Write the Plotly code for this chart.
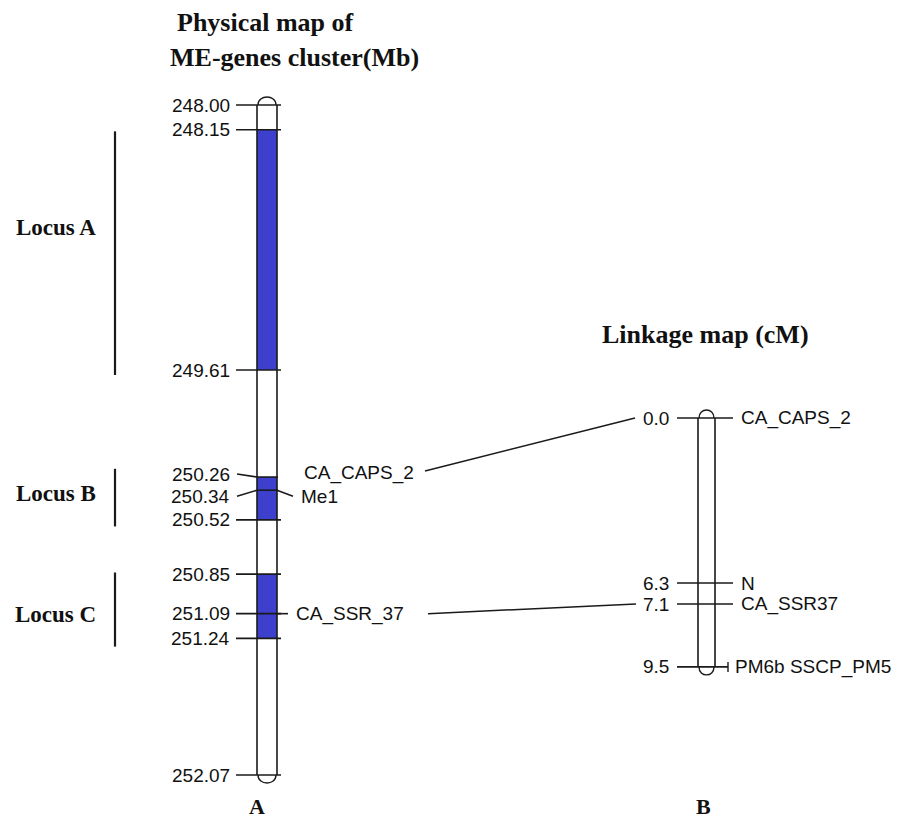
import plotly.graph_objects as go

# ------------------------------------------------------------------ data
phys_pos = [248.00, 248.15, 249.61, 250.26, 250.34, 250.52, 250.85, 251.09, 251.24, 252.07]
phys_tick_labels = ["248.00", "248.15", "249.61", "250.26", "250.34", "250.52",
                    "250.85", "251.09", "251.24", "252.07"]
phys_marker_names = ["CA_CAPS_2", "Me1", "CA_SSR_37"]
phys_marker_pos = [250.26, 250.34, 251.09]
seg_start = [248.15, 250.26, 250.85]
seg_end = [249.61, 250.52, 251.24]
locus_names = ["Locus A", "Locus B", "Locus C"]
locus_start = [248.16, 250.21, 250.84]
locus_end = [249.64, 250.56, 251.29]
link_pos = [0.0, 6.3, 7.1, 9.5]
link_tick_labels = ["0.0", "6.3", "7.1", "9.5"]
link_marker_names = ["CA_CAPS_2", "N", "CA_SSR37", "PM6b SSCP_PM5"]
connect_phys = [250.26, 251.09]
connect_link = [0.0, 7.1]

# ------------------------------------------------------------------ layout / style
W, H = 906, 823
PHYS_TOP_PX, PHYS_BOT_PX = 105, 775          # pixel rows of the physical map ends
LINK_TOP_PX, LINK_PX_PER_CM = 418, 26.2      # linkage map scale
ppm = (PHYS_BOT_PX - PHYS_TOP_PX) / (phys_pos[-1] - phys_pos[0])
y_rng = [phys_pos[-1] + (H - PHYS_BOT_PX) / ppm, phys_pos[0] - PHYS_TOP_PX / ppm]
y2_rng = [(H - LINK_TOP_PX) / LINK_PX_PER_CM, -LINK_TOP_PX / LINK_PX_PER_CM]


def cm_to_mb(c):
    px = LINK_TOP_PX + c * LINK_PX_PER_CM
    return y_rng[1] + px / ppm


PX0, PX1 = 257, 277          # physical chromosome edges
PT0, PT1 = 236, 281          # physical tick extent
LX0, LX1 = 698, 715          # linkage chromosome edges
LT0, LT1 = 677, 733          # linkage tick extent
INK = "#1a1a1a"
BLUE = "#3c40cc"
CAP_PX = 8
tick_nudge = {"250.26": -3, "250.34": 6}          # label offsets (px, down)
marker_nudge = {"CA_CAPS_2": -4, "Me1": 6, "CA_SSR_37": 0}
marker_conn = {"CA_CAPS_2": 0, "Me1": 16, "CA_SSR_37": 11}
locus_nudge = [-26, -4, 5]

SANS = "Liberation Sans"
SERIF = "Liberation Serif"
LBL = dict(family=SANS, size=19, color="#111")

shapes = []
annos = []


def line(x0, y0, x1, y1, yref="y", w=1.6):
    shapes.append(dict(type="line", xref="x", yref=yref, x0=x0, y0=y0, x1=x1, y1=y1,
                       line=dict(color=INK, width=w)))


def chromosome(x0, x1, top, bot, yref, scale):
    h = CAP_PX / scale * 4 / 3
    line(x0, top, x0, bot, yref)
    line(x1, top, x1, bot, yref)
    shapes.append(dict(type="path", xref="x", yref=yref,
                       path=f"M {x0+1},{top} C {x0+1},{top-h} {x1-1},{top-h} {x1-1},{top}",
                       line=dict(color=INK, width=1.4)))
    shapes.append(dict(type="path", xref="x", yref=yref,
                       path=f"M {x0+1},{bot} C {x0+1},{bot+h} {x1-1},{bot+h} {x1-1},{bot}",
                       line=dict(color=INK, width=1.4)))


# blue segments
for s, e in zip(seg_start, seg_end):
    shapes.append(dict(type="rect", xref="x", yref="y", x0=PX0, x1=PX1, y0=s, y1=e,
                       fillcolor=BLUE, line=dict(width=0), layer="above"))

# physical chromosome
chromosome(PX0, PX1, phys_pos[0], phys_pos[-1], "y", ppm)

# physical ticks + left labels
for p, lab in zip(phys_pos, phys_tick_labels):
    d = tick_nudge.get(lab, 0)
    if d:
        line(PT0 + 1, p + d / ppm, PX0, p)
        line(PX0, p, PT1 - 3, p)
    else:
        line(PT0, p, PT1, p)
    annos.append(dict(x=PT0 - 4, y=p, xref="x", yref="y", text=lab, showarrow=False,
                      xanchor="right", yanchor="middle", yshift=-d, font=LBL))

# physical markers (right side)
for name, p in zip(phys_marker_names, phys_marker_pos):
    d = marker_nudge[name]
    c = marker_conn[name]
    if c:
        line(PX1, p, PX1 + c, p + d / ppm)
    annos.append(dict(x=PX1 + c + (6 if c else 25), y=p, xref="x", yref="y", text=name,
                      showarrow=False, xanchor="left", yanchor="middle", yshift=-d, font=LBL))

# loci
for name, s, e, n in zip(locus_names, locus_start, locus_end, locus_nudge):
    line(115, s, 115, e, w=2.2)
    annos.append(dict(x=98, y=(s + e) / 2, xref="x", yref="y", text=f"<b>{name}</b>",
                      showarrow=False, xanchor="right", yanchor="middle", yshift=-n,
                      font=dict(family=SERIF, size=23, color="#111")))

# linkage chromosome
chromosome(LX0, LX1, link_pos[0], link_pos[-1], "y2", LINK_PX_PER_CM)
for i, (c, lab, name) in enumerate(zip(link_pos, link_tick_labels, link_marker_names)):
    last = i == len(link_pos) - 1
    right = LT1 - 5 if last else LT1
    line(LT0, c, right, c, "y2")
    if last:
        line(right, c - 5 / LINK_PX_PER_CM, right, c + 5 / LINK_PX_PER_CM, "y2", 1.4)
    annos.append(dict(x=LT0 - 6, y=c, xref="x", yref="y2", text=lab, showarrow=False,
                      xanchor="right", yanchor="middle", font=LBL))
    annos.append(dict(x=right + 5 if last else LT1 + 6, y=c, xref="x", yref="y2", text=name,
                      showarrow=False, xanchor="left", yanchor="middle", font=LBL))

# connecting lines between maps
link_x = [(425, 635), (428, 636)]
for (xa, xb), p, c in zip(link_x, connect_phys, connect_link):
    d = marker_nudge["CA_CAPS_2"] - 2 if c == 0 else 0
    line(xa, p + d / ppm, xb, cm_to_mb(c), w=1.5)

# titles
TITLE = dict(family=SERIF, size=26, color="#111")
annos += [
    dict(x=175, y=1 - 22 / H, xref="x", yref="paper", text="<b>Physical map of</b>",
         showarrow=False, xanchor="left", yanchor="middle", font=TITLE),
    dict(x=168, y=1 - 58 / H, xref="x", yref="paper", text="<b>ME-genes cluster(Mb)</b>",
         showarrow=False, xanchor="left", yanchor="middle", font=TITLE),
    dict(x=600, y=1 - 335 / H, xref="x", yref="paper", text="<b>Linkage map (cM)</b>",
         showarrow=False, xanchor="left", yanchor="middle", font=TITLE),
    dict(x=257, y=1 - 806 / H, xref="x", yref="paper", text="<b>A</b>",
         showarrow=False, xanchor="center", yanchor="middle",
         font=dict(family=SERIF, size=22, color="#111")),
    dict(x=703, y=1 - 806 / H, xref="x", yref="paper", text="<b>B</b>",
         showarrow=False, xanchor="center", yanchor="middle",
         font=dict(family=SERIF, size=22, color="#111")),
]

fig = go.Figure()
fig.add_trace(go.Scatter(x=[PX0], y=[phys_pos[0]], mode="markers", opacity=0,
                         hoverinfo="skip", showlegend=False))
fig.add_trace(go.Scatter(x=[LX0], y=[link_pos[0]], yaxis="y2", mode="markers", opacity=0,
                         hoverinfo="skip", showlegend=False))
ax = dict(showgrid=False, zeroline=False, showticklabels=False, showline=False, ticks="")
fig.update_layout(
    width=W, height=H, margin=dict(l=0, r=0, t=0, b=0),
    paper_bgcolor="white", plot_bgcolor="white", showlegend=False,
    xaxis=dict(range=[0, W], fixedrange=True, **ax),
    yaxis=dict(range=y_rng, fixedrange=True, **ax),
    yaxis2=dict(range=y2_rng, overlaying="y", fixedrange=True, **ax),
    shapes=shapes, annotations=annos,
)
fig.write_html("out.html", config={"displayModeBar": False},
               post_script="document.body.style.margin='0';document.body.style.overflow='hidden';")
